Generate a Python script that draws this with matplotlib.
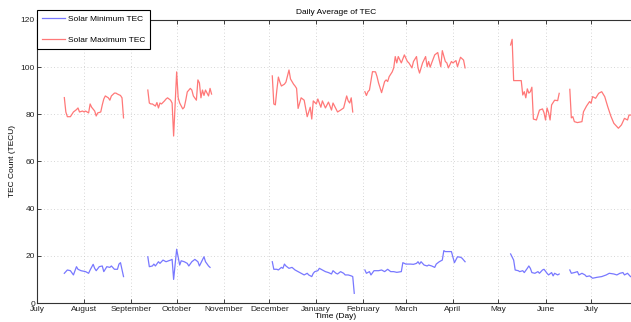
import numpy as np
import matplotlib
matplotlib.use("Agg")
import matplotlib.pyplot as plt

# ---------------- data (day index from July 1, daily average TEC) ----------------
max_days = [
    [18,19,20,22,23,24,26,27,28,30,31,32,34,35,36,38,39,40,42,43,44,45,47,48,49,51,52,53,55,56,57],
    [73,74,75,76,78,79,80,81,82,84,85,86,88,89,90,92,93,94,96,97,98,99,101,102,103,105,106,107,108,109,110,111,113,114,115],
    [155,156,157,158,159,160,161,163,164,165,166,167,169,170,171,172,174,176,178,180,181,182,184,185,187,188,190,192,194,195,198,200,202,204,205,206,207,208],
    [216,217,218,219,221,223,224,225,227,229,230,231,232,234,235,236,237,238,240,242,244,245,247,248,250,251,252,254,256,257,258,259,260,262,264,265,266,267,269,270,271,273,274,276,277,279,281,282],
    [312,313,314,315,317,319,320,321,322,323,324,325,326,327,329,331,333,334,335,336,337,338,339,341,343,344],
    [351,352,353,354,356,359,360,362,364,365,366,368,370,372,374,376,378,380,383,384,385,387,389,390,391],
]
max_vals = [
    [87.1,81,79,79,80,81,82,82.7,81,81.4,81,81.4,80.6,84.4,83,81.4,79.3,80.6,81,84,86.5,87.8,87,86,87.8,89,89,88.6,88,87,78.5],
    [90.3,84.8,84.4,84.4,83.5,85,82.7,84.8,84.4,85.7,86.5,87,86,84.8,70.8,98,87,84.8,82.3,83,86,89.5,91,90.3,87.8,86,94.6,93.3,87,90.3,88,90.3,87.8,91,88.6],
    [96.3,84.4,84,90.3,95.8,93.7,92,92.8,93.7,96.3,98.8,95,92.8,92,91,82.5,87,86,79,83,78,85.7,84.4,86.5,83,85.7,82.7,85.2,81.8,84.8,81,81.8,82.7,87.8,85.7,84.8,87,81],
    [89.6,88,89.6,90.3,98.1,98,96,93.3,89.2,93.9,94.6,93.9,96,98,99.7,104.5,101.8,104.5,101.8,105.2,102.4,101.8,99.7,102.4,104.5,99.7,97.5,101.8,104.5,100.2,102.4,100,101.8,105.2,106.2,103,100.2,107,102.4,101.8,99.7,102.4,101.8,102.8,100.2,104.2,103,99.7],
    [109.4,111.8,94.3,94.3,94.3,94.3,88.2,89.6,87,90.8,89,89.6,91.5,78,77.6,81.8,82.3,80.7,77.6,82.7,80.7,77.6,84,86,85.8,88.9],
    [90.6,78.5,79,76.9,76.5,76.9,81.1,83.5,85.4,84.7,87.5,86.8,88.9,89.6,87.5,83.2,79.3,76.2,74.1,74.8,75.5,78.3,77.6,79.7,79.7],
]

min_days = [
    [18,19,20,22,24,26,27,29,32,34,35,37,38,39,41,43,44,46,48,49,51,53,54,55,57],
    [73,74,76,77,78,80,81,83,85,88,89,90,92,94,95,97,99,100,102,104,106,107,110,111,113,114],
    [155,156,158,159,161,162,163,164,166,168,170,172,174,176,178,179,181,182,183,185,186,188,190,192,194,195,197,198,200,202,203,205,207,208,209],
    [216,217,219,220,222,225,227,229,231,233,235,237,240,241,243,246,248,250,251,252,253,255,257,258,260,262,263,265,267,268,269,271,273,274,275,277,279,280,282],
    [312,314,315,317,318,320,321,323,324,325,326,328,330,331,333,334,336,337,339,340,341,343,344],
    [351,352,354,356,357,359,361,362,364,366,369,372,375,377,380,382,384,386,387,389,391],
]
min_vals = [
    [12.6,13.3,14,13.7,11.9,15.4,14.3,13.7,13.3,12.6,14,16.4,14.7,13.7,15.4,15.7,13.3,15.4,15.1,15.7,14.3,14.3,16.5,17.1,11.2],
    [19.6,15.4,15.7,16.5,15.7,17.5,16.8,18.2,17.5,18.2,18.5,10,22.8,16.1,17.9,17.5,16.8,15.7,17.5,18.5,17.5,15.7,19.6,17.5,15.7,15.1],
    [17.5,14.3,14.3,14,15.1,14.7,16.5,15.7,14.7,15.1,14,13.3,12.6,11.9,12.6,11.9,11.2,12.6,13.3,13.7,14.7,14,13.3,12.9,12.3,13.7,12.6,12.3,13.3,12.6,11.9,11.9,11.5,11.2,4.1],
    [14,12.6,13.3,11.9,13.7,13.7,14,13.3,14.3,13.3,13.3,13,13.3,17.1,16.5,16.5,16.4,16.8,17.5,16.5,17.5,16.1,15.7,16.1,15.7,15.1,16.5,17.5,18.2,22.2,21.8,21.8,21.8,19.4,17.1,19.6,19.4,19,17.5],
    [20.8,18.2,14,13.7,13.3,13.7,12.9,14.7,15.7,14.7,12.9,12.6,13.3,12.6,14,14.3,12.6,11.9,12.9,11.5,12.6,11.9,12.3],
    [14,12.6,12.9,13.3,11.9,12.6,11.9,11.2,11.5,10.5,10.9,11.2,11.9,12.6,12.3,11.9,12.6,12.9,11.9,12.6,11.2],
]

month_ticks = [0, 31, 62, 92, 123, 153, 184, 215, 243, 274, 304, 335, 365]
month_labels = ["July", "August", "September", "October", "November", "December",
                "January", "February", "March", "April", "May", "June", "July"]
y_ticks = [0, 20, 40, 60, 80, 100, 120]


def join_segments(days, vals):
    xs, ys = [], []
    for d, v in zip(days, vals):
        xs.extend(d + [np.nan])
        ys.extend(v + [np.nan])
    return np.array(xs, dtype=float), np.array(ys, dtype=float)


plt.rcParams['font.family'] = ['Liberation Sans', 'DejaVu Sans']

W, H = 631, 322
fig = plt.figure(figsize=(W / 100, H / 100), dpi=100)
left, right, top, bottom = 37, 635, 20, 303
ax = fig.add_axes([left / W, (H - bottom) / H, (right - left) / W, (bottom - top) / H])

blue = '#7878ff'
red = '#ff7878'

xmn, ymn = join_segments(min_days, min_vals)
xmx, ymx = join_segments(max_days, max_vals)
ax.plot(xmn, ymn, color=blue, lw=0.9, label='Solar Minimum TEC')
ax.plot(xmx, ymx, color=red, lw=0.9, label='Solar Maximum TEC')

ax.set_xlim(0, (right - left) / 1.518)
ax.set_ylim(0, 120)
ax.set_xticks(month_ticks)
ax.set_xticklabels(month_labels)
ax.set_yticks(y_ticks)

ax.grid(True, color='#c8c8c8', linestyle=(0, (1, 3)), linewidth=0.6)
ax.tick_params(direction='in', length=3, width=0.6, labelsize=6, top=True, right=True,
               colors='#222222')
ax.tick_params(axis='x', pad=2)
ax.tick_params(axis='y', pad=1.5)
for sp in ax.spines.values():
    sp.set_linewidth(0.8)
    sp.set_color('#333333')

ax.set_title('Daily Average of TEC', fontsize=6, pad=4)
ax.set_xlabel('Time (Day)', fontsize=6, labelpad=0)
ax.set_ylabel('TEC Count (TECU)', fontsize=6, labelpad=3)

leg = ax.legend(loc='upper left', bbox_to_anchor=(left / W, 1 - 10 / H),
                bbox_transform=fig.transFigure, borderaxespad=0, fontsize=6,
                frameon=True, fancybox=False, edgecolor='black', framealpha=1,
                handlelength=2.8, handletextpad=0.3, labelspacing=1.6, borderpad=0.6)
leg.get_frame().set_linewidth(0.8)
leg.set_zorder(5)

fig.savefig('out.png', dpi=100)
